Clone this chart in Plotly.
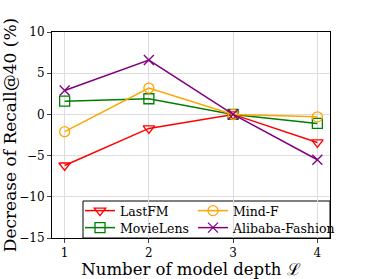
import plotly.graph_objects as go

depths = [1, 2, 3, 4]
lastfm = [-6.2, -1.7, 0.0, -3.4]
movielens = [1.6, 1.9, 0.0, -1.1]
mindf = [-2.1, 3.2, 0.0, -0.3]
alibaba = [2.9, 6.6, 0.0, -5.5]
yticks = [-15, -10, -5, 0, 5, 10]
ytick_labels = ["\u221215", "\u221210", "\u22125", "0", "5", "10"]

font = "DejaVu Serif"
L, R, T, B = 52, 330, 32, 238
PW, PH = R - L, B - T

# legend slots (left px, row center px)
series = [
    ("LastFM", lastfm, "#ff0000", "triangle-down-open", "legend", 80, 211),
    ("MovieLens", movielens, "#008000", "square-open", "legend2", 80, 228),
    ("Mind-F", mindf, "#ffa500", "circle-open", "legend3", 193, 211),
    ("Alibaba-Fashion", alibaba, "#800080", "x-thin-open", "legend4", 193, 228),
]

fig = go.Figure()
legends = {}
for name, vals, col, sym, lg, lx, ly in series:
    fig.add_trace(go.Scatter(
        x=depths, y=vals, name=name, mode="lines+markers", legend=lg,
        showlegend=True,
        line=dict(color=col, width=1.5),
        marker=dict(symbol=sym, size=10, color=col, line=dict(color=col, width=1.3)),
    ))
    legends[lg] = dict(
        orientation="v", x=(lx - L) / PW, xanchor="left",
        y=(B - ly) / PH, yanchor="middle",
        bgcolor="rgba(0,0,0,0)", borderwidth=0,
        font=dict(family=font, size=12.5), itemwidth=30,
        visible=True,
    )

fig.update_layout(
    width=366, height=279, showlegend=True,
    margin=dict(l=L, r=366 - R, t=T, b=279 - B, autoexpand=False),
    paper_bgcolor="white", plot_bgcolor="white",
    font=dict(family=font, size=12, color="black"),
    shapes=[dict(type="rect", xref="paper", yref="paper",
                 x0=(83 - L) / PW, x1=1.0, y0=0.0, y1=(B - 201) / PH,
                 line=dict(color="black", width=1), fillcolor="white", layer="below")],
    **legends,
)
fig.update_xaxes(
    range=[0.85, 4.15], tickvals=depths, ticks="outside", ticklen=4,
    showgrid=True, gridcolor="#dddddd", gridwidth=1,
    showline=True, linecolor="black", linewidth=1, mirror=True,
    zeroline=False, automargin=False,
    title=dict(text="Number of model depth \u2112", font=dict(family=font, size=16.5), standoff=6),
)
fig.update_yaxes(
    range=[-15, 10], tickvals=yticks, ticktext=ytick_labels, ticks="outside", ticklen=4,
    showgrid=True, gridcolor="#dddddd", gridwidth=1,
    showline=True, linecolor="black", linewidth=1, mirror=True,
    zeroline=False, automargin=False,
    title=dict(text="Decrease of Recall@40 (%)", font=dict(family=font, size=17), standoff=4),
)
fig.write_html("out.html", config={"displayModeBar": False},
               post_script="document.body.style.margin='0';")
